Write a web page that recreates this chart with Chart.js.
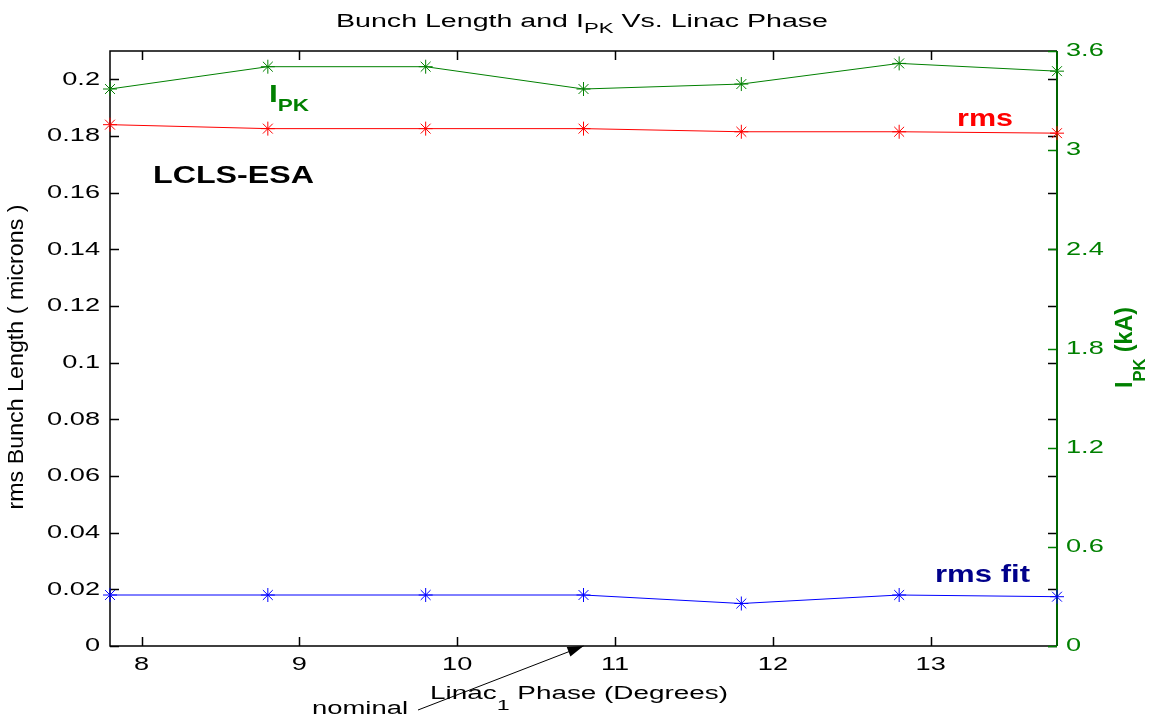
<!DOCTYPE html>
<html>
<head>
<meta charset="utf-8">
<title>Bunch Length and IPK Vs. Linac Phase</title>
<script src="https://cdn.jsdelivr.net/npm/chart.js@4.4.1/dist/chart.umd.min.js"></script>
<style>
  html, body { margin: 0; padding: 0; background: #fff; }
  canvas { display: block; }
</style>
</head>
<body>
<canvas id="chart" width="1157" height="723"></canvas>
<script>
'use strict';

// linac-1 phase scan (degrees)
let phases = [7.8, 8.8, 9.8, 10.8, 11.8, 12.8, 13.8];
// rms bunch length (microns), measured and fitted
let rmsLength = [0.184, 0.1826, 0.1826, 0.1826, 0.1815, 0.1815, 0.181];
let rmsFitLength = [0.018, 0.018, 0.018, 0.018, 0.015, 0.018, 0.0174];
// peak current (kA)
let peakCurrent = [3.37, 3.505, 3.505, 3.37, 3.40, 3.525, 3.478];

let phaseTicks = [8, 9, 10, 11, 12, 13];
let lengthTicks = [0, 0.02, 0.04, 0.06, 0.08, 0.1, 0.12, 0.14, 0.16, 0.18, 0.2];
let currentTicks = [0, 0.6, 1.2, 1.8, 2.4, 3, 3.6];
let nominalPhase = 10.8;

const SANS = '"Liberation Sans", Arial, Helvetica, sans-serif';
const GREEN = '#008000';
const TICK = 9;

function points(ys) {
    return ys.map((y, i) => ({ x: phases[i], y: y }));
}

// draws text pieces one after another; each piece is [text, size, baselineShift]
function drawPieces(ctx, pieces, x, y, o) {
    ctx.save();
    ctx.fillStyle = o.color || '#000';
    ctx.textBaseline = o.baseline || 'alphabetic';
    ctx.textAlign = 'left';
    const fontOf = p => (o.bold ? 'bold ' : '') + p[1] + 'px ' + SANS;
    let widths = pieces.map(p => { ctx.font = fontOf(p); return ctx.measureText(p[0]).width; });
    let total = widths.reduce((s, w) => s + w, 0);
    let sx = o.width ? o.width / total : (o.sx || 1);
    ctx.translate(x, y);
    if (o.rotate) ctx.rotate(-Math.PI / 2);
    ctx.scale(sx, o.sy || 1);
    let cx = o.align === 'center' ? -total / 2 : o.align === 'right' ? -total : 0;
    pieces.forEach((p, i) => {
        ctx.font = fontOf(p);
        ctx.fillText(p[0], cx, p[2] || 0);
        cx += widths[i];
    });
    ctx.restore();
}

// box, inward ticks and the green right-hand axis
const frame = {
    id: 'frame',
    beforeDatasetsDraw(chart) {
        const { ctx, chartArea: a, scales } = chart;
        ctx.save();
        ctx.lineWidth = 1.5;
        ctx.strokeStyle = '#000';
        ctx.beginPath();
        ctx.moveTo(a.right, a.top);
        ctx.lineTo(a.left, a.top);
        ctx.lineTo(a.left, a.bottom);
        ctx.lineTo(a.right, a.bottom);
        phaseTicks.forEach(v => {
            let px = Math.round(scales.x.getPixelForValue(v)) + 0.5;
            ctx.moveTo(px, a.bottom);
            ctx.lineTo(px, a.bottom - TICK);
            ctx.moveTo(px, a.top);
            ctx.lineTo(px, a.top + TICK);
        });
        lengthTicks.forEach(v => {
            let py = Math.round(scales.y.getPixelForValue(v)) + 0.5;
            ctx.moveTo(a.left, py);
            ctx.lineTo(a.left + TICK, py);
            ctx.moveTo(a.right, py);
            ctx.lineTo(a.right - TICK, py);
        });
        ctx.stroke();

        ctx.strokeStyle = GREEN;
        ctx.lineWidth = 1.5;
        ctx.beginPath();
        currentTicks.forEach(v => {
            let py = Math.round(scales.y1.getPixelForValue(v)) + 0.5;
            ctx.moveTo(a.right, py);
            ctx.lineTo(a.right - TICK, py);
        });
        ctx.stroke();
        ctx.strokeStyle = '#006400';
        ctx.lineWidth = 2;
        ctx.beginPath();
        ctx.moveTo(a.right, a.top);
        ctx.lineTo(a.right, a.bottom);
        ctx.stroke();
        ctx.restore();
    },
    afterDraw(chart) {
        const { ctx, chartArea: a, scales } = chart;

        // tick labels
        phaseTicks.forEach(v => {
            drawPieces(ctx, [[String(v), 19]], scales.x.getPixelForValue(v), a.bottom + 19,
                { align: 'center', baseline: 'middle', sx: 1.43 });
        });
        lengthTicks.forEach(v => {
            drawPieces(ctx, [[String(v), 19]], a.left - 10, scales.y.getPixelForValue(v),
                { align: 'right', baseline: 'middle', sx: 1.43 });
        });
        currentTicks.forEach(v => {
            drawPieces(ctx, [[String(v), 19]], a.right + 9, scales.y1.getPixelForValue(v),
                { align: 'left', baseline: 'middle', sx: 1.43, color: GREEN });
        });

        // title and axis titles
        drawPieces(ctx, [['Bunch Length and I', 18], ['PK', 14, 6], [' Vs. Linac Phase', 18]],
            582, 27, { align: 'center', width: 492 });
        drawPieces(ctx, [['Linac', 18], ['1', 15, 11], [' Phase (Degrees)', 18]],
            430, 699, { width: 298 });
        drawPieces(ctx, [['rms Bunch Length ( microns )', 22]], 23, 357,
            { rotate: true, align: 'center', width: 305 });
        drawPieces(ctx, [['I', 24], ['PK', 17, 13], [' (kA)', 24]], 1132, 388,
            { rotate: true, bold: true, color: GREEN, width: 81 });

        // curve labels
        drawPieces(ctx, [['LCLS-ESA', 24]], 153, 183, { bold: true, width: 161 });
        drawPieces(ctx, [['I', 24], ['PK', 17, 9]], 269, 102, { bold: true, color: GREEN, width: 40 });
        drawPieces(ctx, [['rms', 24]], 957, 126, { bold: true, color: '#ff0000', width: 56 });
        drawPieces(ctx, [['rms fit', 24]], 935, 582, { bold: true, color: '#00008b', width: 95 });

        // nominal phase marker
        drawPieces(ctx, [['nominal', 18]], 312, 714, { width: 96 });
        let tipX = scales.x.getPixelForValue(nominalPhase);
        let tipY = scales.y.getPixelForValue(0);
        let tailX = 418, tailY = 710;
        let ang = Math.atan2(tipY - tailY, tipX - tailX);
        ctx.save();
        ctx.strokeStyle = '#000';
        ctx.fillStyle = '#000';
        ctx.lineWidth = 1;
        ctx.beginPath();
        ctx.moveTo(tailX, tailY);
        ctx.lineTo(tipX, tipY);
        ctx.stroke();
        ctx.beginPath();
        ctx.moveTo(tipX, tipY);
        ctx.lineTo(tipX - 16 * Math.cos(ang) + 5 * Math.sin(ang), tipY - 16 * Math.sin(ang) - 5 * Math.cos(ang));
        ctx.lineTo(tipX - 16 * Math.cos(ang) - 5 * Math.sin(ang), tipY - 16 * Math.sin(ang) + 5 * Math.cos(ang));
        ctx.closePath();
        ctx.fill();
        ctx.restore();
    }
};

function series(label, data, color, axis) {
    return {
        label: label,
        data: points(data),
        yAxisID: axis,
        borderColor: color,
        pointBorderColor: color,
        pointBackgroundColor: color,
        borderWidth: 1,
        pointStyle: 'star',
        pointRadius: 7,
        pointBorderWidth: 1,
        tension: 0,
        clip: false
    };
}

let canvasEl = document.getElementById('chart');
let chart = new Chart(canvasEl.getContext('2d'), {
    type: 'line',
    data: {
        datasets: [
            series('rms', rmsLength, '#ff0000', 'y'),
            series('rms fit', rmsFitLength, '#0000ff', 'y'),
            series('IPK', peakCurrent, GREEN, 'y1')
        ]
    },
    options: {
        responsive: false,
        animation: false,
        devicePixelRatio: 1,
        layout: { padding: { top: 51, left: 0, right: 0, bottom: 0 } },
        plugins: {
            legend: { display: false },
            tooltip: { enabled: false },
            title: { display: false }
        },
        scales: {
            x: {
                type: 'linear', min: 7.8, max: 13.8,
                grid: { display: false }, border: { display: false }, ticks: { display: false },
                afterFit: s => { s.height = 77; }
            },
            y: {
                position: 'left', min: 0, max: 0.21,
                grid: { display: false }, border: { display: false }, ticks: { display: false },
                afterFit: s => { s.width = 110; }
            },
            y1: {
                position: 'right', min: 0, max: 3.6,
                grid: { display: false }, border: { display: false }, ticks: { display: false },
                afterFit: s => { s.width = 100; }
            }
        }
    },
    plugins: [frame]
});
</script>
</body>
</html>
